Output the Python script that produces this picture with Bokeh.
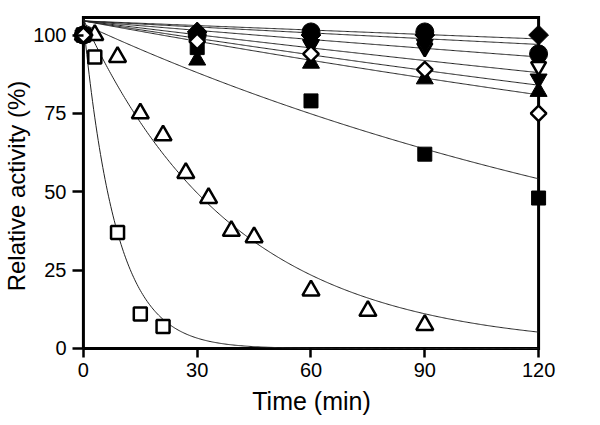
import numpy as np
from bokeh.plotting import figure
from bokeh.models import Range1d, FixedTicker
from bokeh.embed import file_html
from bokeh.resources import INLINE

# ---- data ----
t5 = [0, 30, 60, 90, 120]
circle_filled = [100, 100, 101, 101, 94]
diamond_filled = [100, 101, 100, 100, 100]
invtri_open = [100, 99, 97, 96, 90]
invtri_filled = [100, 99, 97, 97, 86]
tri_filled = [100, 92, 91, 86, 82]
diamond_open = [100, 98, 94, 89, 75]
square_filled = [100, 96, 79, 62, 48]

t_tri_open = [0, 3, 9, 15, 21, 27, 33, 39, 45, 60, 75, 90]
tri_open = [100, 100, 93, 75, 68, 56, 48, 37.5, 35.5, 18.5, 12, 7.5]

t_sq_open = [0, 3, 9, 15, 21]
sq_open = [100, 93, 37, 11, 7]

# fitted first-order decay curves: y = A * exp(-k t)
fit_names = ["diamond_filled", "circle_filled", "invtri_open", "invtri_filled",
             "tri_filled", "diamond_open", "square_filled", "tri_open", "sq_open"]
fit_A = [104.5, 104.5, 104.5, 104.5, 104.5, 104.5, 103.5, 105, 104]
fit_k = [0.000470, 0.000620, 0.000970, 0.001430, 0.001820, 0.002130, 0.0054, 0.025, 0.115]

xticks = [0, 30, 60, 90, 120]
yticks = [0, 25, 50, 75, 100]
x_lo, x_hi = 0, 120      # plotted axis box
y_lo, y_hi = 0, 105.6

FONT = "Liberation Sans"

# frame slightly larger than the axis box so edge markers are not clipped
p = figure(width=600, height=425, output_backend="svg", toolbar_location=None,
           x_range=Range1d(-2.876, 123.14), y_range=Range1d(-2.875, 106.56),
           min_border_left=68, min_border_right=50, min_border_top=14, min_border_bottom=68)
p.grid.visible = False
p.outline_line_color = None
p.background_fill_color = "white"
p.border_fill_color = "white"

for ax in (p.xaxis[0], p.yaxis[0]):
    ax.axis_line_color = None
    ax.major_tick_line_width = 2.5
    ax.major_tick_line_color = "black"
    ax.major_tick_out = 0
    ax.minor_tick_line_color = None
    ax.major_label_text_font = FONT
    ax.major_label_text_font_size = "20px"
    ax.major_label_text_color = "black"
    ax.axis_label_text_font = FONT
    ax.axis_label_text_font_style = "normal"
    ax.axis_label_text_color = "black"

p.xaxis.ticker = FixedTicker(ticks=xticks)
p.yaxis.ticker = FixedTicker(ticks=yticks)
p.xaxis.axis_label = "Time (min)"
p.yaxis.axis_label = "Relative activity (%)"
p.xaxis.major_tick_in = 9
p.yaxis.major_tick_in = 11
p.xaxis.major_label_standoff = 5
p.yaxis.major_label_standoff = 6
p.xaxis.axis_label_text_font_size = "25px"
p.yaxis.axis_label_text_font_size = "24px"
p.xaxis.axis_label_standoff = 7
p.yaxis.axis_label_standoff = 0

# axis box
p.line([x_lo, x_hi, x_hi, x_lo, x_lo], [y_lo, y_lo, y_hi, y_hi, y_lo],
       line_color="black", line_width=3, line_join="miter")

# fitted curves
tgrid = np.linspace(0, 120, 400)
for A, k in zip(fit_A, fit_k):
    p.line(tgrid, A * np.exp(-k * tgrid), line_color="#222222", line_width=1)

LW = 2.5
p.scatter(t_sq_open, sq_open, marker="square", size=13,
          fill_color="white", line_color="black", line_width=LW)
p.scatter(t_tri_open, tri_open, marker="triangle", size=17,
          fill_color="white", line_color="black", line_width=LW)
p.scatter(t5, diamond_filled, marker="square", angle=np.pi / 4, size=14,
          fill_color="black", line_color="black", line_width=1)
p.scatter(t5, circle_filled, marker="circle", size=18,
          fill_color="black", line_color="black", line_width=1)
p.scatter(t5, square_filled, marker="square", size=14,
          fill_color="black", line_color="black", line_width=1)
p.scatter(t5, invtri_open, marker="inverted_triangle", size=15,
          fill_color="white", line_color="black", line_width=LW)
p.scatter(t5, invtri_filled, marker="inverted_triangle", size=17,
          fill_color="black", line_color="black", line_width=1)
p.scatter(t5, tri_filled, marker="triangle", size=17,
          fill_color="black", line_color="black", line_width=1)
p.scatter(t5, diamond_open, marker="square", angle=np.pi / 4, size=11,
          fill_color="white", line_color="black", line_width=LW)

open("out.html", "w").write(file_html(p, INLINE))
